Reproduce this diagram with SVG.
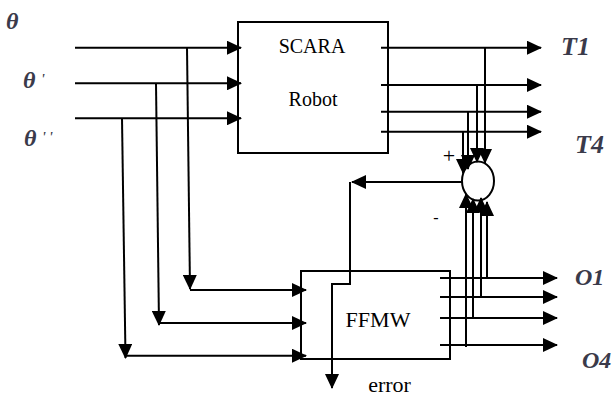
<svg xmlns="http://www.w3.org/2000/svg" width="615" height="396" viewBox="0 0 615 396">
<defs>
<marker id="ah" viewBox="0 0 15 14" refX="14" refY="7" markerWidth="15" markerHeight="14" markerUnits="userSpaceOnUse" orient="auto">
<path d="M0,0 L15,7 L0,14 z" fill="#000"/>
</marker>
<style>
.ln{fill:none;stroke:#000;stroke-width:2}
.ar{fill:none;stroke:#000;stroke-width:2;marker-end:url(#ah)}
.box{fill:#fff;stroke:#000;stroke-width:2}
.t{font-family:"Liberation Serif","Times New Roman",serif;fill:#000}
.lb{font-family:"Liberation Serif","Times New Roman",serif;font-style:italic;font-weight:bold;fill:#3a3a4a}
</style>
</defs>
<rect width="615" height="396" fill="#fff"/>
<g id="scara">
<rect class="box" x="238" y="22" width="150" height="131"/>
<text class="t" x="312" y="53" font-size="20" text-anchor="middle">SCARA</text>
<text class="t" x="313" y="106" font-size="20" text-anchor="middle">Robot</text>
</g>
<g id="ffmw">
<rect class="box" x="301" y="271" width="149" height="88"/>
<text class="t" x="378" y="327" font-size="22" text-anchor="middle">FFMW</text>
</g>
<g id="sum">
<ellipse cx="478" cy="181" rx="16" ry="19.5" fill="#fff" stroke="#000" stroke-width="2"/>
<text class="t" x="449" y="163" font-size="22" text-anchor="middle">+</text>
<text class="t" x="436" y="223" font-size="16" text-anchor="middle">-</text>
</g>
<g id="connectors">
<path class="ar" d="M75,47.7 H241"/>
<path class="ar" d="M75,83.3 H241"/>
<path class="ar" d="M75,118.3 H241"/>
<path class="ar" d="M187,47.7 L190,289"/>
<path class="ar" d="M156,83.3 L159,325"/>
<path class="ar" d="M122,118.3 L125.5,358"/>
<path class="ar" d="M190,290 H306"/>
<path class="ar" d="M159,323 H306"/>
<path class="ar" d="M125.5,355.7 H306"/>
<path class="ar" d="M381,47.7 H541"/>
<path class="ar" d="M381,85 H541"/>
<path class="ar" d="M381,111.7 H541"/>
<path class="ar" d="M381,131.7 H541"/>
<path class="ar" d="M485,47.7 V163"/>
<path class="ar" d="M477,85 V162"/>
<path class="ar" d="M468,111.7 V169"/>
<path class="ar" d="M463,131.7 V173"/>
<path class="ar" d="M462,182 H352"/>
<path class="ar" d="M350,182 V284 H332 V388"/>
<path class="ar" d="M440,278 H557"/>
<path class="ar" d="M440,297 H557"/>
<path class="ar" d="M440,318 H557"/>
<path class="ar" d="M440,345 H557"/>
<path class="ar" d="M487,278 V202"/>
<path class="ar" d="M481,297 V198"/>
<path class="ar" d="M473,318 V199"/>
<path class="ar" d="M466,347 V194"/>
</g>
<g id="labels">
<text class="lb" x="6" y="29" font-size="24">θ</text>
<text class="lb" x="23" y="88" font-size="24">θ<tspan x="41" y="84" font-size="14">'</tspan></text>
<text class="lb" x="24" y="146" font-size="24">θ<tspan x="42" y="142" font-size="14">'</tspan><tspan x="49" y="142" font-size="14">'</tspan></text>
<text class="lb" x="561" y="55" font-size="26">T1</text>
<text class="lb" x="575" y="153" font-size="26">T4</text>
<text class="lb" x="575" y="285" font-size="24">O1</text>
<text class="lb" x="582" y="368" font-size="24">O4</text>
<text class="t" x="389.5" y="392" font-size="22" text-anchor="middle">error</text>
</g>
</svg>
